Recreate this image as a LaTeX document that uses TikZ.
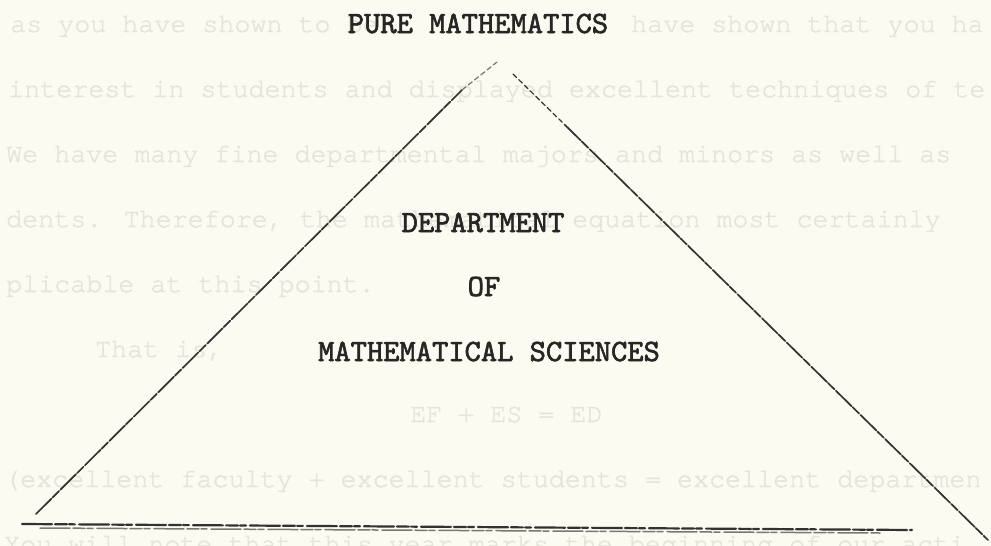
\documentclass[tikz,border=0pt]{standalone}
\usepackage{fontspec}
\newfontfamily\capfont{lmmono10-regular.otf}[FakeBold=2]
\newfontfamily\ghostfont{texgyrecursor-regular.otf}[FakeBold=1.5,Ligatures=NoCommon]
\definecolor{paper}{RGB}{252,251,242}
\definecolor{ghost}{RGB}{230,229,219}
\definecolor{ink}{RGB}{38,38,36}
\definecolor{pencil}{RGB}{50,50,48}
\definecolor{faintpencil}{RGB}{120,120,115}
\begin{document}
\begin{tikzpicture}[x=1pt,y=-1pt,
  captext/.style={font=\capfont\fontsize{31}{31}\selectfont, text=ink, inner sep=0pt, anchor=base},
  ghosttext/.style={font=\ghostfont\fontsize{26.7}{27}\selectfont, text=ghost, inner sep=0pt, anchor=base west},
  stroke/.style={draw=pencil, line width=1.7pt, line cap=round, dash pattern=on 22pt off 1.5pt on 9pt off 2pt},
  faintstroke/.style={draw=faintpencil, line width=1.2pt, line cap=round, dash pattern=on 5pt off 3pt},
  basestroke/.style={draw=pencil, line width=2.2pt, line cap=round, dash pattern=on 30pt off 3pt on 12pt off 2pt on 6pt off 4pt}]
\useasboundingbox (0,0) rectangle (991,546);
\fill[paper] (0,0) rectangle (991,546);
\clip (0,0) rectangle (991,546);
% show-through text from the page behind
\node[ghosttext] (g1a) at (10,32) {as you have shown to be};
\node[ghosttext] (g1b) at (631,32) {have shown that you ha};
\node[ghosttext] (g2) at (8,97) {interest in students and displayed excellent techniques of te};
\node[ghosttext] (g3) at (6,162) {We have many fine departmental majors and minors as well as};
\node[ghosttext] (g4) at (6,227) {dents.  Therefore, the mathematical equation most certainly};
\node[ghosttext] (g5) at (6,292) {plicable at this point.};
\node[ghosttext] (g6) at (95,357) {That is,};
\node[ghosttext] (g7) at (410,422) {EF + ES = ED};
\node[ghosttext] (g8) at (4,487) {(excellent faculty + excellent students = excellent departmen};
\node[ghosttext] (g9) at (4,552) {You will note that this year marks the beginning of our acti};
% triangle corners
\coordinate (lb) at (36,514);
\coordinate (lt) at (462,90);
\coordinate (tip) at (497,62);
\coordinate (rt) at (513,74);
\coordinate (rm) at (565,125);
\coordinate (rb) at (988,540);
\coordinate (bl1) at (22,524);
\coordinate (br1) at (912,530);
\coordinate (bl2) at (40,528);
\coordinate (br2) at (880,533);
\draw[stroke] (lb) -- (lt);
\draw[faintstroke] (lt) -- (tip);
\draw[faintstroke, draw=pencil] (rt) -- (rm);
\draw[stroke] (rm) -- (rb);
\draw[basestroke] (bl1) -- (br1);
\draw[basestroke, line width=1.5pt, draw=faintpencil] (bl2) -- (br2);
% labels
\node[captext] (pure) at (478,33) {PURE MATHEMATICS};
\node[captext] (dept) at (483,232) {DEPARTMENT};
\node[captext] (of) at (484,296) {OF};
\node[captext] (msci) at (489,361) {MATHEMATICAL SCIENCES};
\end{tikzpicture}
\end{document}
